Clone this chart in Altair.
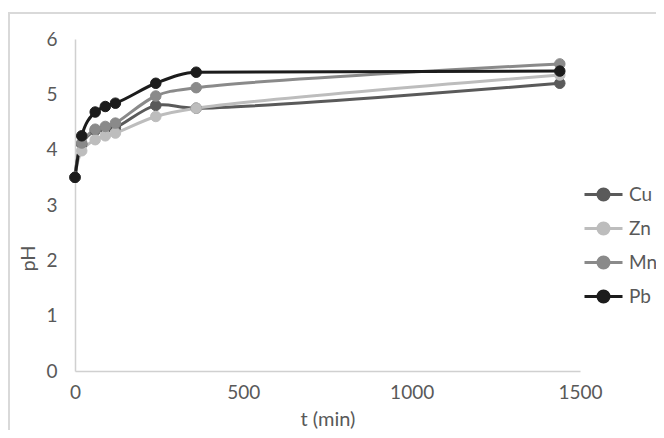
import altair as alt
import pandas as pd

t = [0, 20, 60, 90, 120, 240, 360, 1440]
series = ["Cu", "Zn", "Mn", "Pb"]
cu = [3.5, 4.10, 4.35, 4.38, 4.40, 4.80, 4.75, 5.20]
zn = [3.5, 3.98, 4.18, 4.25, 4.30, 4.60, 4.75, 5.35]
mn = [3.5, 4.12, 4.37, 4.42, 4.48, 4.97, 5.12, 5.55]
pb = [3.5, 4.25, 4.68, 4.78, 4.84, 5.20, 5.40, 5.42]
colors = ["#5a5a5a", "#bdbdbd", "#8a8a8a", "#1c1c1c"]
x_ticks = [0, 500, 1000, 1500]
y_ticks = [0, 1, 2, 3, 4, 5, 6]

rows = []
for i, (name, vals) in enumerate(zip(series, [cu, zn, mn, pb])):
    for tt, v in zip(t, vals):
        rows.append({"t": tt, "pH": v, "metal": name, "ord": i})
df = pd.DataFrame(rows)

FONT = "Lato"
x = alt.X("t:Q", scale=alt.Scale(domain=[0, 1500], nice=False),
          axis=alt.Axis(values=x_ticks, format="d", title="t (min)", grid=False, ticks=False,
                        labelFlush=False, domainColor="#d0d0d0", labelPadding=12, titleY=54,
                        titleBaseline="alphabetic"))
y = alt.Y("pH:Q", scale=alt.Scale(domain=[0, 6], nice=False),
          axis=alt.Axis(values=y_ticks, title="pH", grid=False, ticks=False, labelFlush=False,
                        domainColor="#d0d0d0", labelPadding=18, titleX=-47, titleY=219,
                        titleAngle=-90, titleAlign="center", titleBaseline="middle"))

scale = alt.Scale(domain=series, range=colors)
SYMBOL = "M-1,0L1,0M-0.29,0A0.29,0.29 0 1,0 0.29,0A0.29,0.29 0 1,0 -0.29,0Z"
leg = dict(title=None, orient="none", legendX=508, legendY=135,
           symbolType=SYMBOL, symbolSize=1444, symbolStrokeWidth=3, rowPadding=1,
           labelFont=FONT, labelFontSize=19, labelColor="#595959", labelOffset=5)

base = alt.Chart(df)
lines_a = base.transform_filter(alt.datum.metal != "Pb").mark_line(
    strokeWidth=3, interpolate="catmull-rom").encode(
    x=x, y=y,
    stroke=alt.Stroke("metal:N", scale=scale, legend=alt.Legend(**leg)),
    order="ord:Q",
)
lines_b = base.transform_filter(alt.datum.metal == "Pb").mark_line(
    strokeWidth=3, interpolate="monotone").encode(
    x=x, y=y,
    stroke=alt.Stroke("metal:N", scale=scale, legend=alt.Legend(**leg)),
    order="ord:Q",
)
points = base.mark_point(filled=True, size=110, opacity=1, strokeWidth=1).encode(
    x=x, y=y,
    fill=alt.Fill("metal:N", scale=scale, legend=alt.Legend(**leg)),
    stroke=alt.Stroke("metal:N", scale=scale, legend=alt.Legend(**leg)),
    order="ord:Q",
)

border_top = base.mark_rule(color="#d9d9d9", strokeWidth=2).encode(
    x=alt.value(-66), x2=alt.value(620), y=alt.value(-26)
)
border_left = base.mark_rule(color="#d9d9d9", strokeWidth=2).encode(
    x=alt.value(-66), y=alt.value(-27), y2=alt.value(420)
)

chart = alt.layer(border_top, border_left, lines_a, lines_b, points).properties(
    width=505, height=332,
    autosize=alt.AutoSizeParams(type="none"),
    padding={"left": 67, "top": 31, "right": 76, "bottom": 59},
).configure_view(stroke=None).configure_axis(
    labelFont=FONT, labelFontSize=19, labelColor="#595959",
    titleFont=FONT, titleFontSize=20, titleColor="#595959", titleFontWeight="normal",
    domainWidth=1.5,
)

chart.save("out.html", embed_options={"renderer": "svg", "actions": False})
